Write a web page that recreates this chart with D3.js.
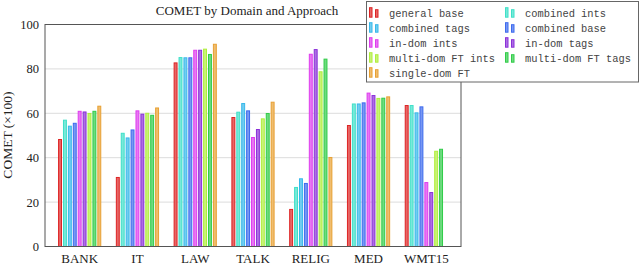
<!DOCTYPE html>
<html>
<head>
<meta charset="utf-8">
<script src="https://cdn.jsdelivr.net/npm/d3@7"></script>
<style>
  body { margin: 0; background: #fff; }
  svg text { font-family: "Liberation Serif", "DejaVu Serif", serif; }
  .legend text { font-family: "Liberation Mono", "DejaVu Sans Mono", monospace; }
</style>
</head>
<body>
<div id="chart"></div>
<script>
// chart data
const domains = ['BANK', 'IT', 'LAW', 'TALK', 'RELIG', 'MED', 'WMT15']

const approaches = [
    'general base',
    'combined ints',
    'combined tags',
    'combined base',
    'in-dom ints',
    'in-dom tags',
    'multi-dom FT ints',
    'multi-dom FT tags',
    'single-dom FT'
]

const general_base = [48.2, 31.1, 82.7, 58.1, 16.7, 54.5, 63.5]
const combined_ints = [56.9, 51.0, 85.1, 60.5, 26.6, 64.2, 63.5]
const combined_tags = [54.2, 48.9, 85.0, 64.4, 30.5, 64.2, 60.2]
const combined_base = [55.5, 52.5, 85.0, 61.1, 28.4, 64.7, 62.9]
const in_dom_ints = [60.9, 61.1, 88.4, 49.1, 86.6, 69.1, 28.8]
const in_dom_tags = [60.6, 59.6, 88.4, 52.7, 88.7, 68.0, 24.3]
const multi_dom_ints = [59.9, 60.0, 88.9, 57.5, 78.7, 66.7, 42.9]
const multi_dom_tags = [60.9, 59.1, 86.5, 59.9, 84.4, 66.8, 43.8]
const single_dom_ft = [63.2, 62.4, 91.1, 65.0, 40.1, 67.4, null]

const y_ticks = [0, 20, 40, 60, 80, 100]

const colors = [
    '#dd2424',
    '#3ee0c8',
    '#36b8ea',
    '#3d6aee',
    '#de3cee',
    '#8a30d8',
    '#b0ee3c',
    '#30cc48',
    '#e8a032'
]

const series = [
    general_base, combined_ints, combined_tags, combined_base,
    in_dom_ints, in_dom_tags, multi_dom_ints, multi_dom_tags, single_dom_ft
]

generate()

function generate(){
    const chart_width = 640
    const chart_height = 266
    const left = 45, right = 461, top = 24.5, bottom = 246.5

    var svg = d3.select('#chart')
        .append('svg')
        .attr('width', chart_width)
        .attr('height', chart_height)

    // scales
    var x_scale = d3.scalePoint()
        .domain(domains)
        .range([left, right])
        .padding(0.6)

    var bar_scale = d3.scaleBand()
        .domain(d3.range(approaches.length))
        .range([-21.6, 21.6])
        .paddingInner(0.2)

    var y_scale = d3.scaleLinear()
        .domain([0, 100])
        .range([bottom, top])

    // grid
    svg.append('g')
        .selectAll('line')
        .data(y_ticks.slice(1, -1))
        .enter()
        .append('line')
        .attr('x1', left)
        .attr('x2', right)
        .attr('y1', d => y_scale(d))
        .attr('y2', d => y_scale(d))
        .attr('stroke', '#dcdcdc')
        .attr('stroke-width', 1)

    // bars
    var rows = []
    series.forEach(function(vals, s){
        vals.forEach(function(v, i){
            if (v != null) rows.push({s: s, domain: domains[i], value: v})
        })
    })

    svg.append('g')
        .attr('class', 'bars')
        .selectAll('rect')
        .data(rows)
        .enter()
        .append('rect')
        .attr('x', d => x_scale(d.domain) + bar_scale(d.s) + 0.5)
        .attr('y', d => y_scale(d.value))
        .attr('width', bar_scale.bandwidth() - 1)
        .attr('height', d => y_scale(0) - y_scale(d.value))
        .attr('fill', d => d3.interpolateRgb(colors[d.s], '#fff')(0.3))
        .attr('stroke', d => colors[d.s])
        .attr('stroke-width', 1)

    // frame
    svg.append('rect')
        .attr('x', left)
        .attr('y', top)
        .attr('width', right - left)
        .attr('height', bottom - top)
        .attr('fill', 'none')
        .attr('stroke', '#555')
        .attr('stroke-width', 1)

    // y axis labels
    svg.append('g')
        .selectAll('text')
        .data(y_ticks)
        .enter()
        .append('text')
        .attr('x', left - 6)
        .attr('y', d => y_scale(d) + 4.5)
        .attr('text-anchor', 'end')
        .attr('font-size', '12.5px')
        .attr('fill', '#222')
        .text(d => d)

    // x axis labels
    svg.append('g')
        .selectAll('text')
        .data(domains)
        .enter()
        .append('text')
        .attr('x', d => x_scale(d))
        .attr('y', 263)
        .attr('text-anchor', 'middle')
        .attr('font-size', '13px')
        .attr('fill', '#222')
        .text(d => d)

    svg.append('text')
        .attr('transform', 'translate(11.5,135) rotate(-90)')
        .attr('text-anchor', 'middle')
        .attr('font-size', '13.5px')
        .attr('fill', '#222')
        .text('COMET (×100)')

    svg.append('text')
        .attr('x', 247)
        .attr('y', 15)
        .attr('text-anchor', 'middle')
        .attr('font-size', '13px')
        .attr('fill', '#222')
        .text('COMET by Domain and Approach')

    // legend
    var legend = svg.append('g').attr('class', 'legend')
    legend.append('rect')
        .attr('x', 366.5)
        .attr('y', 1.5)
        .attr('width', 272)
        .attr('height', 80.5)
        .attr('fill', '#fff')
        .attr('stroke', '#666')
        .attr('stroke-width', 1)

    var items = legend.selectAll('g.item')
        .data(approaches)
        .enter()
        .append('g')
        .attr('class', 'item')
        .attr('transform', (d, i) =>
            'translate(' + (i % 2 == 0 ? 369 : 505) + ',' + (12.7 + Math.floor(i / 2) * 15) + ')')

    items.append('rect')
        .attr('x', 0.5).attr('y', -5).attr('width', 2.5).attr('height', 9.5)
        .attr('fill', (d, i) => d3.interpolateRgb(colors[i], '#fff')(0.3))
        .attr('stroke', (d, i) => colors[i])
    items.append('rect')
        .attr('x', 6.5).attr('y', -3).attr('width', 2.5).attr('height', 7.5)
        .attr('fill', (d, i) => d3.interpolateRgb(colors[i], '#fff')(0.3))
        .attr('stroke', (d, i) => colors[i])

    items.append('text')
        .attr('x', 20)
        .attr('y', 3.8)
        .attr('font-size', '10.4px')
        .attr('fill', '#444')
        .text(d => d)
}
</script>
</body>
</html>
